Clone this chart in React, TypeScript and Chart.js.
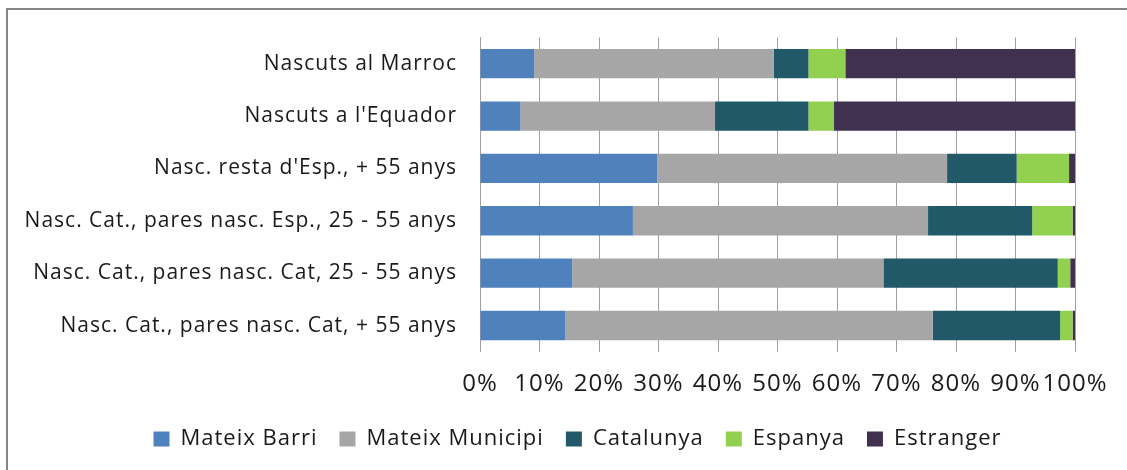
import React, { useEffect, useRef } from "react";
import { Chart, registerables } from "chart.js";

Chart.register(...registerables);

const categories = [
  "Nascuts al Marroc",
  "Nascuts a l'Equador",
  "Nasc. resta d'Esp., + 55 anys",
  "Nasc. Cat., pares nasc. Esp., 25 - 55 anys",
  "Nasc. Cat., pares nasc. Cat, 25 - 55 anys",
  "Nasc. Cat., pares nasc. Cat, + 55 anys",
];

const seriesNames = ["Mateix Barri", "Mateix Municipi", "Catalunya", "Espanya", "Estranger"];
const seriesColors = ["#4F81BD", "#A6A6A6", "#215968", "#92D050", "#403151"];

const mateixBarri = [9.1, 6.8, 29.8, 25.7, 15.5, 14.3];
const mateixMunicipi = [40.3, 32.7, 48.7, 49.6, 52.3, 61.8];
const catalunya = [5.8, 15.7, 11.7, 17.5, 29.3, 21.4];
const espanya = [6.2, 4.3, 8.8, 6.8, 2.1, 2.1];
const estranger = [38.6, 40.5, 1.0, 0.4, 0.8, 0.4];

const seriesValues = [mateixBarri, mateixMunicipi, catalunya, espanya, estranger];

const tickSuffix = "%";

const spacingPlugin = {
  id: "letterSpacing",
  beforeUpdate(chart: any) {
    (chart.ctx as any).letterSpacing = "1px";
  },
  afterLayout(chart: any) {
    const lg = chart.legend;
    if (lg) {
      lg.left += 40;
      lg.right += 40;
    }
  },
  beforeDraw(chart: any) {
    (chart.ctx as any).letterSpacing = "1px";
  },
};

export default function App() {
  const canvasRef = useRef<HTMLCanvasElement | null>(null);

  useEffect(() => {
    if (!canvasRef.current) return;
    Chart.defaults.font.family = "'Open Sans', 'Noto Sans', sans-serif";
    const textColor = "#1a1a1a";
    const chart = new Chart(canvasRef.current, {
      type: "bar",
      data: {
        labels: categories,
        datasets: seriesNames.map((name, i) => ({
          label: name,
          data: seriesValues[i],
          backgroundColor: seriesColors[i],
          borderWidth: 0,
          barPercentage: 0.56,
          categoryPercentage: 1.0,
        })),
      },
      options: {
        indexAxis: "y",
        responsive: false,
        animation: false,
        devicePixelRatio: 1,
        layout: { padding: { top: 37.5, left: 0, right: 52, bottom: 10 } },
        plugins: {
          legend: {
            position: "bottom",
            labels: {
              boxWidth: 16,
              boxHeight: 15,
              padding: 22,
              color: textColor,
              font: { size: 22 },
            },
          },
          tooltip: { enabled: false },
        },
        scales: {
          x: {
            stacked: true,
            min: 0,
            max: 100,
            ticks: {
              stepSize: 10,
              callback: (v: any) => v + tickSuffix,
              padding: 18,
              color: textColor,
              font: { size: 24 },
              maxRotation: 0,
              autoSkip: false,
            },
            grid: { color: "#a0a0a0", lineWidth: 1, drawTicks: false },
            border: { display: false },
            afterFit: (s: any) => {
              s.height = 54.3;
            },
          },
          y: {
            stacked: true,
            ticks: { padding: 23, color: textColor, font: { size: 21 }, autoSkip: false },
            grid: { display: false, drawTicks: false },
            border: { display: true, color: "#a0a0a0" },
            afterFit: (s: any) => {
              s.width = 480;
            },
          },
        },
      },
      plugins: [spacingPlugin],
    });
    return () => chart.destroy();
  }, []);

  return (
    <div
      style={{
        position: "fixed",
        left: 0,
        top: 0,
        width: 1127,
        height: 470,
        overflow: "hidden",
        background: "#ffffff",
      }}
    >
      <div
        style={{
          position: "absolute",
          left: 6,
          top: 8,
          width: 1300,
          height: 700,
          borderLeft: "2px solid #868686",
          borderTop: "2px solid #868686",
        }}
      />
      <canvas
        ref={canvasRef}
        width={1127}
        height={470}
        style={{ position: "absolute", left: 0, top: 0, width: 1127, height: 470 }}
      />
    </div>
  );
}
